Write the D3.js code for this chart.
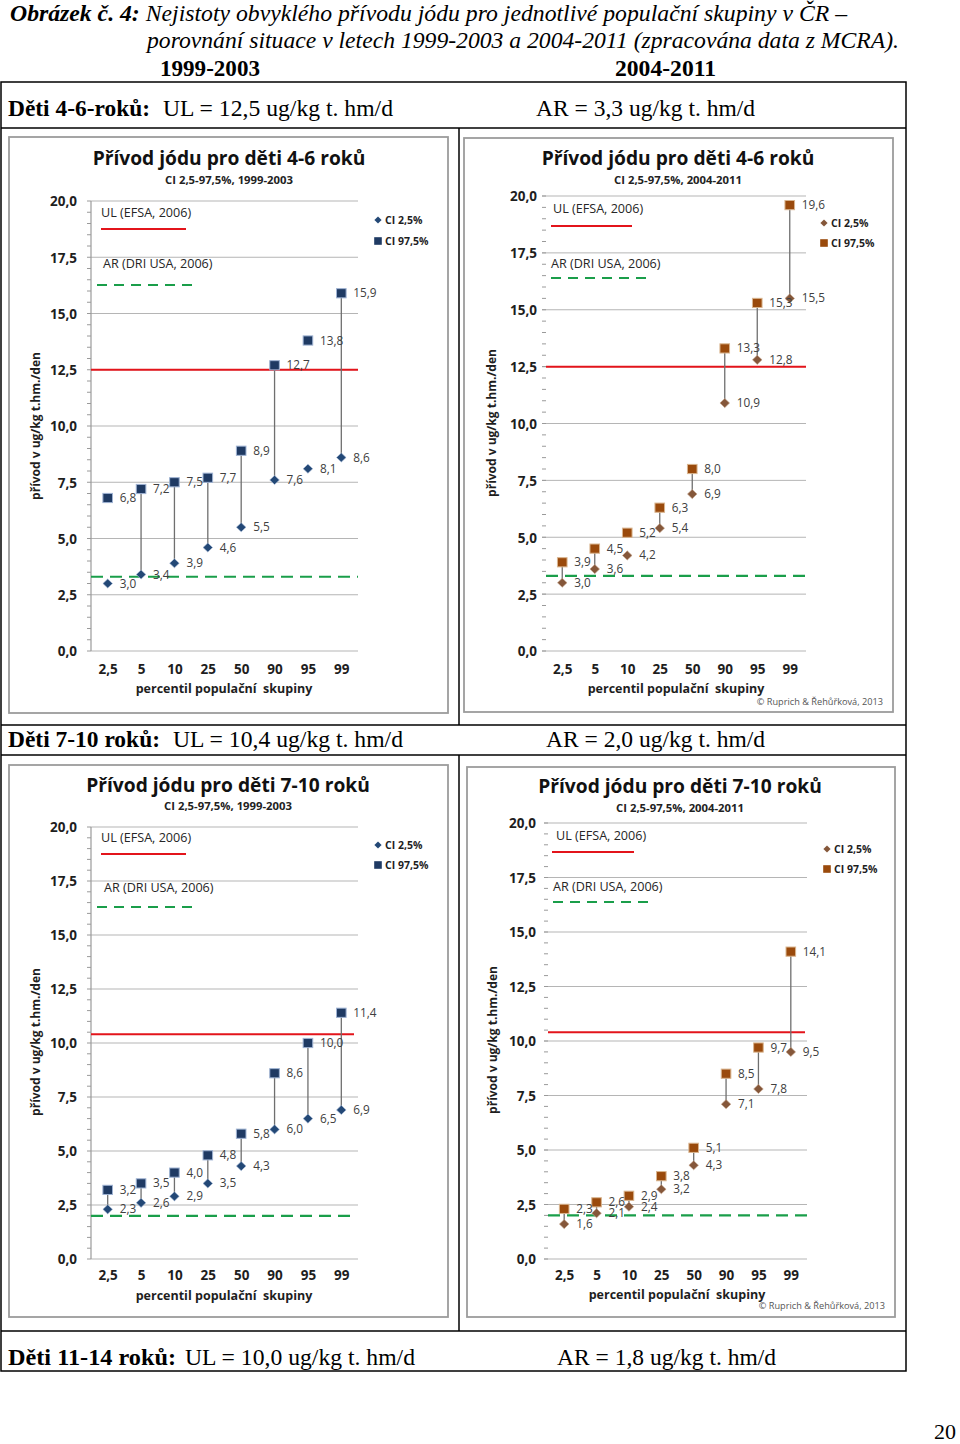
<!DOCTYPE html>
<html><head><meta charset="utf-8">
<script src="https://cdn.jsdelivr.net/npm/d3@7/dist/d3.min.js"></script>
<style>body{margin:0;background:#fff;} svg{display:block}</style>
</head><body><svg id="c" width="960" height="1444"></svg>
<script>
// ---------------- DATA ----------------
const percentiles = ['2,5','5','10','25','50','90','95','99'];
const yTickValues = [0, 2.5, 5, 7.5, 10, 12.5, 15, 17.5, 20];
const periods = ['1999-2003', '2004-2011'];
const groups = ['Děti 4-6-roků:', 'Děti 7-10 roků:', 'Děti 11-14 roků:'];
const ulValues = [12.5, 10.4, 10.0];
const arValues = [3.3, 2.0, 1.8];
const chartTitles = ['Přívod jódu pro děti 4-6 roků', 'Přívod jódu pro děti 7-10 roků'];

// Děti 4-6 roků, 1999-2003
const ci975_46_1999 = [6.8, 7.2, 7.5, 7.7, 8.9, 12.7, 13.8, 15.9];
const ci25_46_1999  = [3.0, 3.4, 3.9, 4.6, 5.5, 7.6, 8.1, 8.6];
const links_46_1999 = [false, true, true, true, true, true, false, true];
// Děti 4-6 roků, 2004-2011
const ci975_46_2004 = [3.9, 4.5, 5.2, 6.3, 8.0, 13.3, 15.3, 19.6];
const ci25_46_2004  = [3.0, 3.6, 4.2, 5.4, 6.9, 10.9, 12.8, 15.5];
const links_46_2004 = [true, true, false, true, true, true, true, true];
// Děti 7-10 roků, 1999-2003
const ci975_710_1999 = [3.2, 3.5, 4.0, 4.8, 5.8, 8.6, 10.0, 11.4];
const ci25_710_1999  = [2.3, 2.6, 2.9, 3.5, 4.3, 6.0, 6.5, 6.9];
const links_710_1999 = [true, true, true, true, true, true, true, true];
// Děti 7-10 roků, 2004-2011
const ci975_710_2004 = [2.3, 2.6, 2.9, 3.8, 5.1, 8.5, 9.7, 14.1];
const ci25_710_2004  = [1.6, 2.1, 2.4, 3.2, 4.3, 7.1, 7.8, 9.5];
const links_710_2004 = [true, true, true, true, true, true, true, true];

// ---------------- HELPERS ----------------
const svg = d3.select('#c');
const serif = "'Liberation Serif','Times New Roman',serif";
const sans = "'Open Sans','Noto Sans',sans-serif";
const fmt = v => v.toFixed(1).replace('.', ',');

function serifText(x, y, str, len, opts = {}) {
  const t = svg.append('text').attr('x', x).attr('y', y)
    .attr('font-family', serif).attr('font-size', opts.size || 24)
    .attr('font-weight', opts.bold ? 'bold' : 'normal')
    .attr('font-style', opts.italic ? 'italic' : 'normal')
    .attr('fill', '#000');
  if (len) t.attr('textLength', len).attr('lengthAdjust', 'spacingAndGlyphs');
  t.text(str);
  return t;
}

// ---------------- PAGE HEADER ----------------
const t1 = svg.append('text').attr('x', 10).attr('y', 21)
  .attr('font-family', serif).attr('font-size', 23).attr('font-style', 'italic')
  .attr('textLength', 837).attr('lengthAdjust', 'spacingAndGlyphs');
t1.append('tspan').attr('font-weight', 'bold').text('Obrázek č. 4:');
t1.append('tspan').text(' Nejistoty obvyklého přívodu jódu pro jednotlivé populační skupiny v ČR –');
serifText(147, 48, 'porovnání situace v letech 1999-2003 a 2004-2011 (zpracována data z MCRA).', 752, {italic: true, size: 23});
serifText(160, 76, periods[0], 100, {bold: true, size: 23});
serifText(615, 76, periods[1], 101, {bold: true, size: 23});

// ---------------- TABLE ----------------
const tbl = svg.append('g').attr('stroke', '#000').attr('stroke-width', 1.5).attr('fill', 'none');
tbl.append('rect').attr('x', 1).attr('y', 82).attr('width', 905).attr('height', 1289);
[128, 725, 755, 1331].forEach(yy => tbl.append('line').attr('x1', 1).attr('x2', 906).attr('y1', yy).attr('y2', yy));
[[128, 725], [755, 1331]].forEach(([a, b]) => tbl.append('line').attr('x1', 459).attr('x2', 459).attr('y1', a).attr('y2', b));

const rowY = [116, 747, 1365];
const rowGroupLen = [142, 152, 168];
const rowUlX = [163, 173, 185];
const rowArX = [536, 546, 557];
groups.forEach((gname, i) => {
  serifText(8, rowY[i], gname, rowGroupLen[i], {bold: true});
  serifText(rowUlX[i], rowY[i], `UL = ${fmt(ulValues[i])} ug/kg t. hm/d`, 230);
  serifText(rowArX[i], rowY[i], `AR = ${fmt(arValues[i])} ug/kg t. hm/d`, 219);
});
serifText(934, 1439, '20', 22, {size: 22});

// ---------------- CHARTS ----------------
const themes = {
  navy:  {sqFill: '#1f3a63', sqStroke: '#9fb3d3', diFill: '#234876', diStroke: '#a9bcd9'},
  brown: {sqFill: '#9a4a0c', sqStroke: '#d9b58f', diFill: '#85573a', diStroke: '#c9ab93'}
};

const charts = [
  {panel: [9, 137, 448, 713], x0: 91, x1: 358, gridEnd: 358, y20: 201, y0: 651, axisLine: true,
   tx: 229, ty: 165, sty: 183.5, ylabX: 77, xlabY: 674, xtX: 224, xtY: 693, ytX: 40, ytY: 426,
   ulT: [101, 217], ulL: [101, 186, 229], arT: [103, 268], arL: [97, 195, 285], lg: [378, 220, 241],
   ulEnd: 358, arEnd: 358, copy: null,
   title: chartTitles[0], period: periods[0], hi: ci975_46_1999, lo: ci25_46_1999, links: links_46_1999,
   ul: ulValues[0], ar: arValues[0], theme: 'navy'},
  {panel: [464, 138, 893, 712], x0: 546, x1: 806, gridEnd: 806, y20: 196, y0: 651, axisLine: false,
   tx: 678, ty: 165, sty: 183.5, ylabX: 537, xlabY: 674, xtX: 676, xtY: 693, ytX: 496, ytY: 423,
   ulT: [553, 213], ulL: [551, 632, 226], arT: [551, 268], arL: [551, 648, 278], lg: [824, 223, 243],
   ulEnd: 806, arEnd: 808, copy: [883, 705],
   title: chartTitles[0], period: periods[1], hi: ci975_46_2004, lo: ci25_46_2004, links: links_46_2004,
   ul: ulValues[0], ar: arValues[0], theme: 'brown'},
  {panel: [9, 765, 448, 1317], x0: 91, x1: 358, gridEnd: 358, y20: 827, y0: 1259, axisLine: true,
   tx: 228, ty: 791.5, sty: 809.5, ylabX: 77, xlabY: 1280, xtX: 224, xtY: 1300, ytX: 40, ytY: 1042,
   ulT: [101, 842], ulL: [101, 186, 854], arT: [104, 892], arL: [97, 195, 907], lg: [378, 845, 865],
   ulEnd: 354, arEnd: 356, copy: null,
   title: chartTitles[1], period: periods[0], hi: ci975_710_1999, lo: ci25_710_1999, links: links_710_1999,
   ul: ulValues[1], ar: arValues[1], theme: 'navy'},
  {panel: [467, 767, 895, 1317], x0: 548, x1: 807, gridEnd: 807, y20: 823, y0: 1259, axisLine: false,
   tx: 680, ty: 792.5, sty: 811.5, ylabX: 536, xlabY: 1280, xtX: 677, xtY: 1299, ytX: 497, ytY: 1040,
   ulT: [556, 840], ulL: [552, 634, 852], arT: [553, 891], arL: [553, 650, 902], lg: [827, 849, 869],
   ulEnd: 805, arEnd: 808, copy: [885, 1309],
   title: chartTitles[1], period: periods[1], hi: ci975_710_2004, lo: ci25_710_2004, links: links_710_2004,
   ul: ulValues[1], ar: arValues[1], theme: 'brown'}
];

const diamond = (w, h) => `M0,${-h}L${w},0L0,${h}L${-w},0Z`;

function drawChart(c) {
  const th = themes[c.theme];
  const g = svg.append('g');
  const [px0, py0, px1, py1] = c.panel;
  g.append('rect').attr('x', px0).attr('y', py0).attr('width', px1 - px0).attr('height', py1 - py0)
    .attr('fill', '#fff').attr('stroke', '#9c9c9c').attr('stroke-width', 1.8);

  const x = d3.scalePoint().domain(percentiles).range([c.x0, c.x1]).padding(0.5);
  const y = d3.scaleLinear().domain([0, 20]).range([c.y0, c.y20]);
  const gridStart = c.axisLine ? c.x0 : c.x0 - 4;

  // gridlines
  g.append('g').selectAll('line').data(yTickValues).join('line')
    .attr('x1', gridStart).attr('x2', c.gridEnd).attr('y1', d => y(d)).attr('y2', d => y(d))
    .attr('stroke', '#b5b5b5').attr('stroke-width', 1);
  // minor ticks
  g.append('g').selectAll('line').data(d3.range(0, 41).map(i => i * 0.5)).join('line')
    .attr('x1', c.x0 - 4).attr('x2', c.x0).attr('y1', d => y(d)).attr('y2', d => y(d))
    .attr('stroke', '#9a9a9a').attr('stroke-width', 1);
  if (c.axisLine) {
    g.append('line').attr('x1', c.x0).attr('x2', c.x0).attr('y1', y(20)).attr('y2', y(0))
      .attr('stroke', '#9a9a9a').attr('stroke-width', 1.2);
  }

  // y axis labels
  const ya = g.append('g').attr('transform', `translate(${c.ylabX},0)`)
    .call(d3.axisLeft(y).tickValues(yTickValues).tickFormat(fmt).tickSize(0).tickPadding(0));
  ya.select('.domain').remove();
  ya.selectAll('text').attr('font-family', sans).attr('font-size', 13.5).attr('font-weight', 'bold')
    .attr('fill', '#1e1e1e').attr('dy', '0.36em');

  // x axis labels
  const xa = g.append('g').attr('transform', `translate(0,${c.xlabY})`)
    .call(d3.axisBottom(x).tickSize(0).tickPadding(0));
  xa.select('.domain').remove();
  xa.selectAll('text').attr('y', 0).attr('dy', 0).attr('font-family', sans).attr('font-size', 13.5)
    .attr('font-weight', 'bold').attr('fill', '#1e1e1e');

  // titles
  g.append('text').attr('x', c.tx).attr('y', c.ty).attr('text-anchor', 'middle')
    .attr('font-family', sans).attr('font-weight', 'bold').attr('font-size', 19.2).attr('fill', '#111')
    .text(c.title);
  g.append('text').attr('x', c.tx).attr('y', c.sty).attr('text-anchor', 'middle')
    .attr('font-family', sans).attr('font-weight', 'bold').attr('font-size', 11.3).attr('fill', '#222')
    .text('CI 2,5-97,5%, ' + c.period);
  g.append('text').attr('x', c.xtX).attr('y', c.xtY).attr('text-anchor', 'middle')
    .attr('font-family', sans).attr('font-weight', 'bold').attr('font-size', 12.5).attr('fill', '#1e1e1e')
    .attr('xml:space', 'preserve').text('percentil populační  skupiny');
  g.append('text').attr('transform', `translate(${c.ytX},${c.ytY}) rotate(-90)`).attr('text-anchor', 'middle')
    .attr('font-family', sans).attr('font-weight', 'bold').attr('font-size', 12).attr('fill', '#1e1e1e')
    .text('přívod v ug/kg t.hm./den');

  // reference lines
  g.append('line').attr('x1', c.x0).attr('x2', c.ulEnd).attr('y1', y(c.ul)).attr('y2', y(c.ul))
    .attr('stroke', '#e3141b').attr('stroke-width', 2);
  g.append('line').attr('x1', c.x0).attr('x2', c.arEnd).attr('y1', y(c.ar)).attr('y2', y(c.ar))
    .attr('stroke', '#1a9e4a').attr('stroke-width', 2.2).attr('stroke-dasharray', '12,7');

  // in-plot legend
  g.append('text').attr('x', c.ulT[0]).attr('y', c.ulT[1]).attr('font-family', sans).attr('font-size', 12.6)
    .attr('fill', '#262626').text('UL (EFSA, 2006)');
  g.append('line').attr('x1', c.ulL[0]).attr('x2', c.ulL[1]).attr('y1', c.ulL[2]).attr('y2', c.ulL[2])
    .attr('stroke', '#e3141b').attr('stroke-width', 2.2);
  g.append('text').attr('x', c.arT[0]).attr('y', c.arT[1]).attr('font-family', sans).attr('font-size', 12.6)
    .attr('fill', '#262626').text('AR (DRI USA, 2006)');
  g.append('line').attr('x1', c.arL[0]).attr('x2', c.arL[1]).attr('y1', c.arL[2]).attr('y2', c.arL[2])
    .attr('stroke', '#1a9e4a').attr('stroke-width', 2.2).attr('stroke-dasharray', '10,7');

  // data
  const rows = percentiles.map((p, i) => ({p, hi: c.hi[i], lo: c.lo[i], link: c.links[i]}));
  g.append('g').selectAll('line').data(rows.filter(d => d.link)).join('line')
    .attr('x1', d => x(d.p)).attr('x2', d => x(d.p)).attr('y1', d => y(d.hi)).attr('y2', d => y(d.lo))
    .attr('stroke', '#6f6f6f').attr('stroke-width', 1.3);
  g.append('g').selectAll('path').data(rows).join('path')
    .attr('d', diamond(4.8, 4.6)).attr('transform', d => `translate(${x(d.p)},${y(d.lo)})`)
    .attr('fill', th.diFill).attr('stroke', th.diStroke).attr('stroke-width', 0.6);
  g.append('g').selectAll('rect').data(rows).join('rect')
    .attr('x', d => x(d.p) - 4.8).attr('y', d => y(d.hi) - 4.6).attr('width', 9.6).attr('height', 9.2)
    .attr('fill', th.sqFill).attr('stroke', th.sqStroke).attr('stroke-width', 1);
  const lbl = g.append('g').attr('font-family', sans).attr('font-size', 11.8).attr('fill', '#404040');
  lbl.selectAll('text.hi').data(rows).join('text').attr('class', 'hi')
    .attr('x', d => x(d.p) + 12).attr('y', d => y(d.hi) + 4).text(d => fmt(d.hi));
  lbl.selectAll('text.lo').data(rows).join('text').attr('class', 'lo')
    .attr('x', d => x(d.p) + 12).attr('y', d => y(d.lo) + 4).text(d => fmt(d.lo));

  // right legend
  const [lx, ly1, ly2] = c.lg;
  g.append('path').attr('d', diamond(3.6, 3.6)).attr('transform', `translate(${lx},${ly1})`).attr('fill', th.diFill);
  g.append('rect').attr('x', lx - 3.8).attr('y', ly2 - 3.8).attr('width', 7.6).attr('height', 7.6).attr('fill', th.sqFill);
  g.append('text').attr('x', lx + 7).attr('y', ly1 + 3.8).attr('font-family', sans).attr('font-size', 10.5)
    .attr('font-weight', 'bold').attr('fill', '#1e1e1e').text('CI 2,5%');
  g.append('text').attr('x', lx + 7).attr('y', ly2 + 3.8).attr('font-family', sans).attr('font-size', 10.5)
    .attr('font-weight', 'bold').attr('fill', '#1e1e1e').text('CI 97,5%');

  if (c.copy) {
    g.append('text').attr('x', c.copy[0]).attr('y', c.copy[1]).attr('text-anchor', 'end')
      .attr('font-family', sans).attr('font-size', 9.2).attr('fill', '#555')
      .text('© Ruprich & Řehůřková, 2013');
  }
}
charts.forEach(drawChart);
</script>
</body></html>
